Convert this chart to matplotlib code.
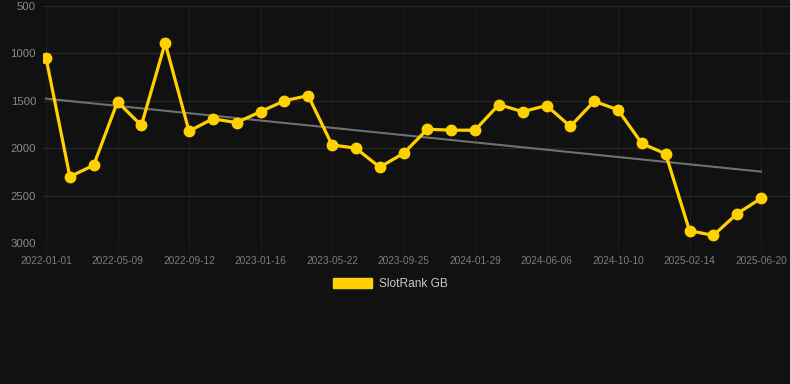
import numpy as np
import matplotlib
matplotlib.use("Agg")
import matplotlib.pyplot as plt
from matplotlib.patches import Patch

# SlotRank GB rank, one reading roughly every 6 weeks
ranks = [1045, 2300, 2180, 1510, 1760, 890, 1820, 1690, 1730, 1615,
         1500, 1445, 1965, 2000, 2200, 2055, 1800, 1810, 1810, 1540,
         1615, 1550, 1770, 1505, 1595, 1950, 2060, 2870, 2920, 2690, 2530]
# labels shown on every third reading
tick_labels = ["2022-01-01", "2022-05-09", "2022-09-12", "2023-01-16",
               "2023-05-22", "2023-09-25", "2024-01-29", "2024-06-06",
               "2024-10-10", "2025-02-14", "2025-06-20"]
y_ticks = [500, 1000, 1500, 2000, 2500, 3000]

bg = "#111111"
gold = "#FFD100"

plt.rcParams["font.family"] = ["Liberation Sans", "DejaVu Sans"]

fig = plt.figure(figsize=(7.9, 3.84), dpi=100, facecolor=bg)
ax = fig.add_axes([43 / 790, 1 - 243 / 384, 747 / 790, 237 / 384])
ax.set_facecolor(bg)

x = np.arange(len(ranks))

# linear trend through the series
slope, intercept = np.polyfit(x, ranks, 1)
ax.plot(x, slope * x + intercept, color="#707070", lw=1.5, zorder=2)

ax.plot(x, ranks, color=gold, lw=2.3, marker="o", markersize=7.5,
        markerfacecolor=gold, markeredgecolor=gold, zorder=3)

ax.set_ylim(3000, 500)
px = 747 / 715 * 30
ax.set_xlim(-3 / 715 * 30, -3 / 715 * 30 + px)

ax.set_yticks(y_ticks)
ax.set_yticklabels([str(v) for v in y_ticks])
ax.set_xticks(x[::3])
ax.set_xticklabels(tick_labels)

ax.grid(True, axis="y", color="#272727", lw=0.8)
ax.grid(True, axis="x", color="#1d1d1d", lw=0.8)
for s in ax.spines.values():
    s.set_visible(False)
ax.tick_params(axis="y", length=0, pad=5, labelsize=8.2, labelcolor="#8a8a8a")
ax.tick_params(axis="x", length=7, width=0.8, color="#1d1d1d", pad=2,
               labelsize=7.3, labelcolor="#7c7c7c")

leg = fig.legend(handles=[Patch(facecolor=gold, edgecolor=gold, label="SlotRank GB")],
                 loc="center", bbox_to_anchor=(390 / 790, 1 - 284 / 384),
                 frameon=False, fontsize=8.6, handlelength=3.3, handleheight=1.0,
                 handletextpad=0.55)
for t in leg.get_texts():
    t.set_color("#c8c8c8")

fig.savefig("out.png", dpi=100, facecolor=bg)
